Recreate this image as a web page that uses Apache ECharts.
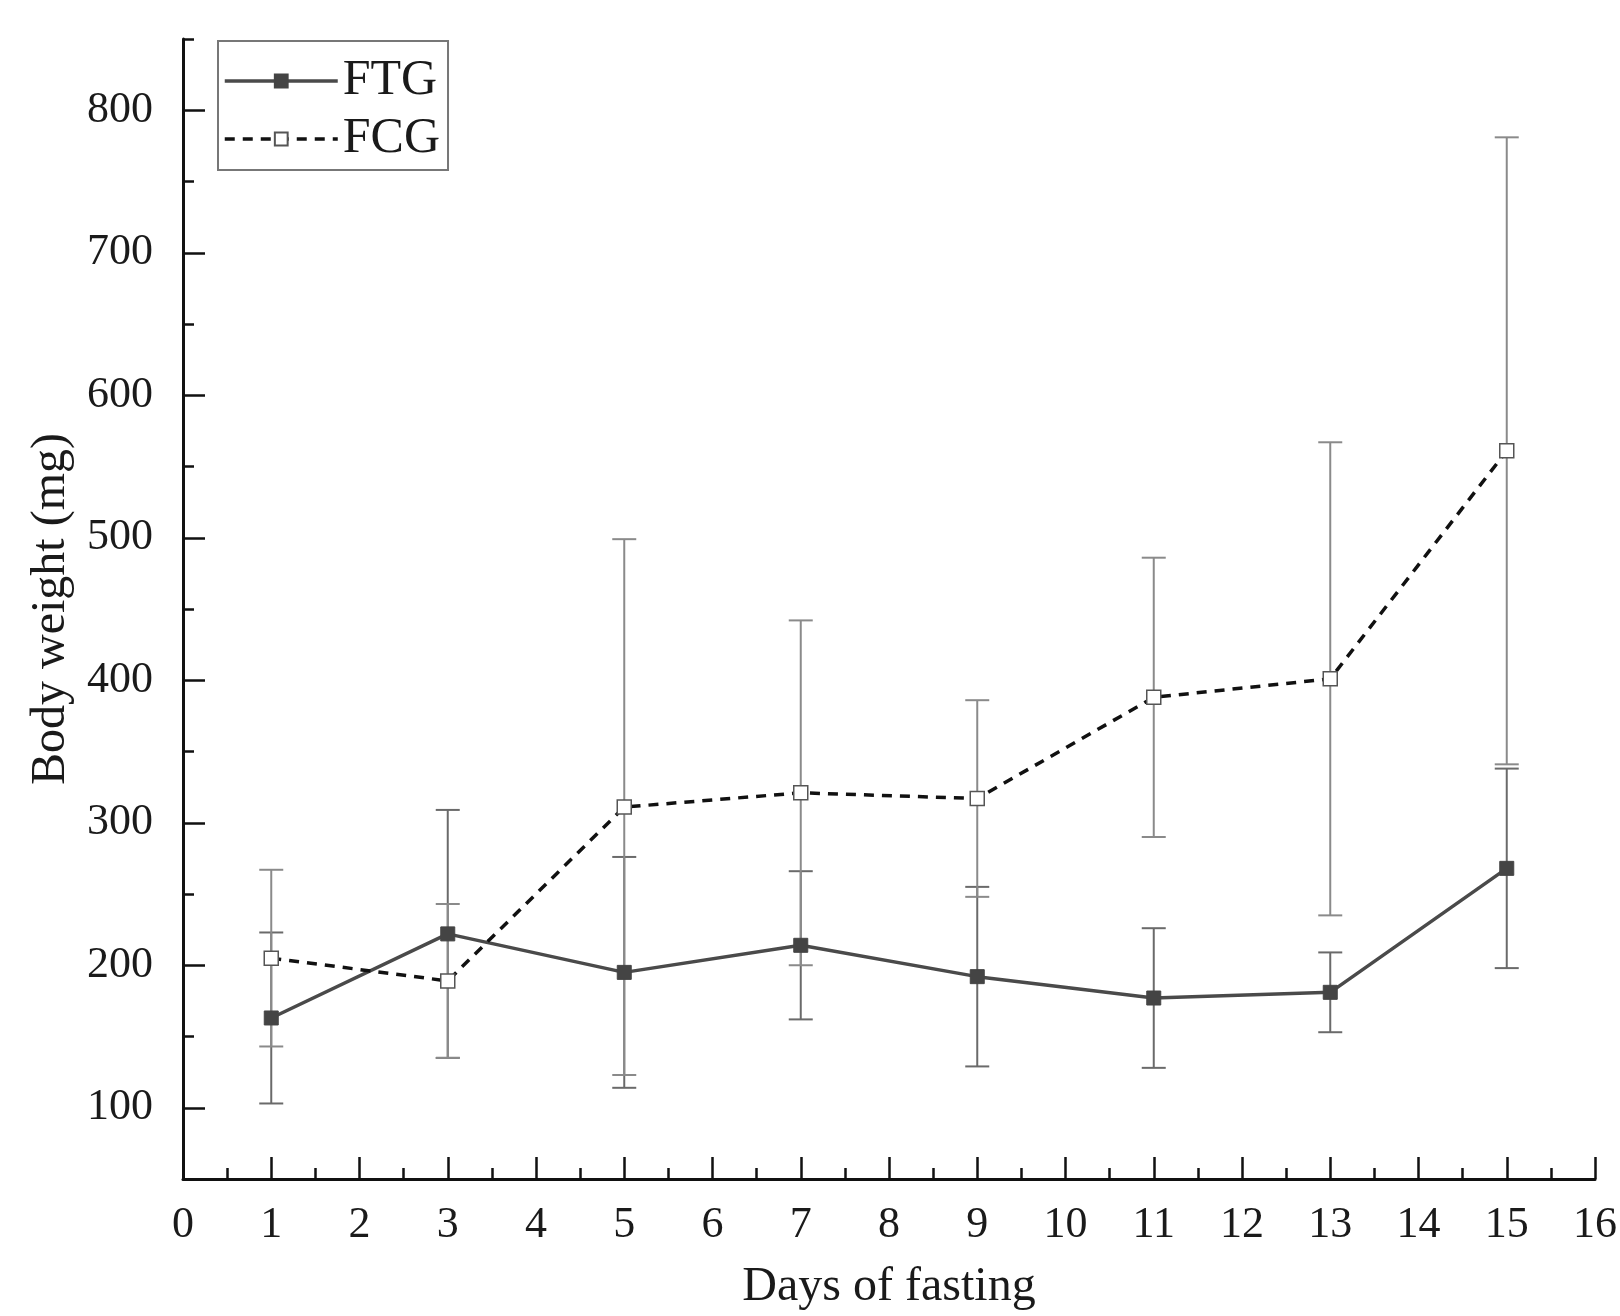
<!DOCTYPE html>
<html>
<head>
<meta charset="utf-8">
<script src="https://cdn.jsdelivr.net/npm/echarts@6/dist/echarts.min.js"></script>
<style>
  html, body { margin: 0; padding: 0; background: #fff; }
  #chart { width: 1620px; height: 1316px; }
</style>
</head>
<body>
<div id="chart"></div>
<script>
// days of fasting
const days = [1, 3, 5, 7, 9, 11, 13, 15];
// FTG: mean body weight (mg) and error
const ftg = [163, 222, 195, 214, 192, 177, 181, 268];
const ftgErr = [60, 87, 81, 52, 63, 49, 28, 70];
// FCG: mean body weight (mg) and error
const fcg = [205, 189, 311, 321, 317, 388, 401, 561];
const fcgErr = [62, 54, 188, 121, 69, 98, 166, 220];
// tick positions
const yMajor = [100, 200, 300, 400, 500, 600, 700, 800];
const yMinor = [50, 150, 250, 350, 450, 550, 650, 750, 850];

const font = "'Liberation Serif', 'Times New Roman', serif";

function errorData(vals, errs) {
  return days.map((d, i) => [d, vals[i] - errs[i], vals[i] + errs[i]]);
}

function errorSeries(name, vals, errs, color) {
  return {
    type: "custom",
    name: name + " err",
    z: 1,
    silent: true,
    encode: { x: 0, y: [1, 2] },
    data: errorData(vals, errs),
    renderItem: function (params, api) {
      let x = api.value(0);
      let lo = api.coord([x, api.value(1)]);
      let hi = api.coord([x, api.value(2)]);
      let w = 12;
      let st = { stroke: color, lineWidth: 2 };
      return {
        type: "group",
        children: [
          { type: "line", shape: { x1: lo[0], y1: lo[1], x2: hi[0], y2: hi[1] }, style: st },
          { type: "line", shape: { x1: hi[0] - w, y1: hi[1], x2: hi[0] + w, y2: hi[1] }, style: st },
          { type: "line", shape: { x1: lo[0] - w, y1: lo[1], x2: lo[0] + w, y2: lo[1] }, style: st },
        ],
      };
    },
  };
}

let myChart = echarts.init(document.getElementById("chart"));

let option = {
  backgroundColor: "#fff",
  animation: false,
  textStyle: { fontFamily: font, color: "#1a1a1a" },
  grid: { left: 183, right: 24, top: 39, bottom: 137, containLabel: false },
  legend: {
    left: 218,
    top: 41,
    orient: "vertical",
    data: ["FTG", "FCG"],
    itemWidth: 113,
    itemHeight: 16,
    itemGap: 8,
    padding: [15, 8, 6, 5],
    borderColor: "#777",
    borderWidth: 2,
    lineStyle: { width: 3.5 },
    textStyle: { fontFamily: font, fontSize: 50, color: "#1a1a1a" },
  },
  xAxis: {
    type: "value",
    min: 0,
    max: 16,
    interval: 1,
    name: "Days of fasting",
    nameLocation: "middle",
    nameGap: 84,
    nameTextStyle: { fontFamily: font, fontSize: 48, color: "#1a1a1a" },
    axisLine: { lineStyle: { color: "#111", width: 3 } },
    axisTick: { inside: true, length: 22, lineStyle: { color: "#111", width: 2.5 } },
    minorTick: { show: true, splitNumber: 2, length: 11, lineStyle: { color: "#111", width: 2.5 } },
    axisLabel: { margin: 24, fontFamily: font, fontSize: 44, color: "#1a1a1a" },
    splitLine: { show: false },
  },
  yAxis: [
    {
      type: "value",
      position: "left",
      min: 50,
      max: 850,
      name: "Body weight (mg)",
      nameLocation: "middle",
      nameGap: 108,
      nameTextStyle: { fontFamily: font, fontSize: 48, color: "#1a1a1a" },
      axisLine: { show: true, lineStyle: { color: "#111", width: 3 } },
      axisTick: { inside: true, length: 22, customValues: yMajor, lineStyle: { color: "#111", width: 2.5 } },
      axisLabel: { margin: 30, customValues: yMajor, fontFamily: font, fontSize: 44, color: "#1a1a1a" },
      splitLine: { show: false },
    },
    {
      type: "value",
      position: "left",
      offset: 0,
      min: 50,
      max: 850,
      axisLine: { show: false },
      axisTick: { show: true, inside: true, length: 11, customValues: yMinor, lineStyle: { color: "#111", width: 2.5 } },
      axisLabel: { show: false },
      splitLine: { show: false },
    },
  ],
  series: [
    errorSeries("FTG", ftg, ftgErr, "#6a6a6a"),
    errorSeries("FCG", fcg, fcgErr, "#8a8a8a"),
    {
      name: "FTG",
      type: "line",
      z: 3,
      data: days.map((d, i) => [d, ftg[i]]),
      symbol: "rect",
      symbolSize: 14,
      itemStyle: { color: "#444", borderColor: "#444", borderWidth: 1 },
      lineStyle: { color: "#4a4a4a", width: 3.5 },
    },
    {
      name: "FCG",
      type: "line",
      z: 3,
      data: days.map((d, i) => [d, fcg[i]]),
      symbol: "rect",
      symbolSize: 14,
      itemStyle: { color: "#fff", borderColor: "#555", borderWidth: 1.5 },
      lineStyle: { color: "#111", width: 3.5, type: [10, 8] },
    },
  ],
};

myChart.setOption(option);
</script>
</body>
</html>
